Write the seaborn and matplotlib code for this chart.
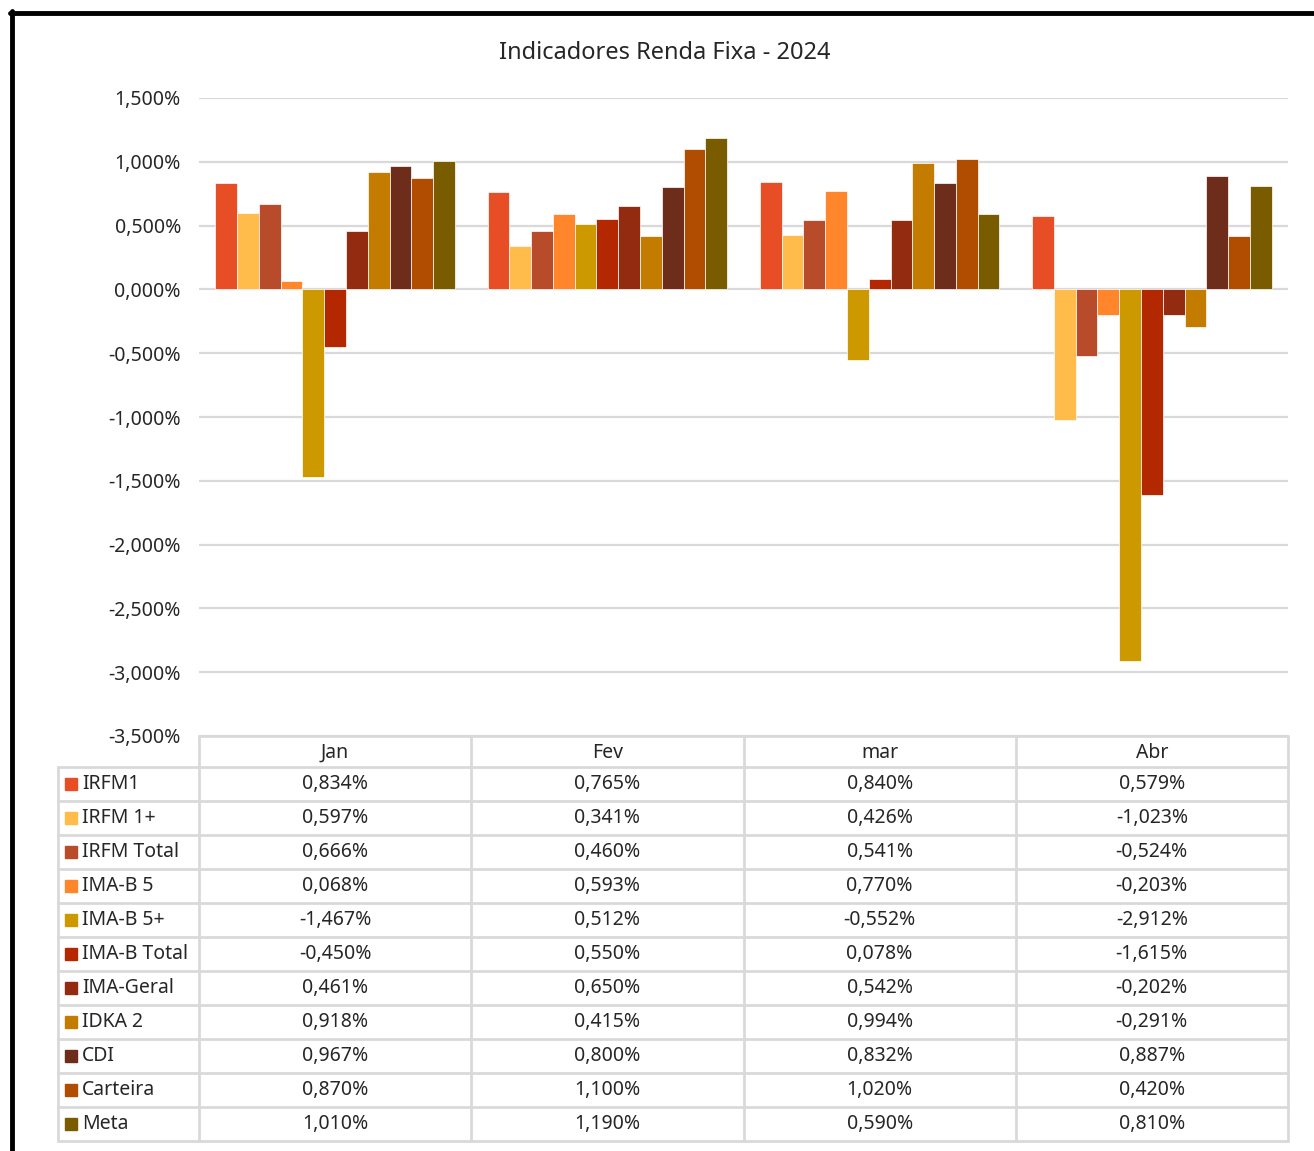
import pandas as pd
import matplotlib.pyplot as plt
import seaborn as sns
from matplotlib.ticker import FuncFormatter, MultipleLocator
from matplotlib.lines import Line2D
from matplotlib.patches import Rectangle

meses = ["Jan", "Fev", "mar", "Abr"]
series = ["IRFM1", "IRFM 1+", "IRFM Total", "IMA-B 5", "IMA-B 5+", "IMA-B Total",
          "IMA-Geral", "IDKA 2", "CDI", "Carteira", "Meta"]
irfm1 = [0.834, 0.765, 0.840, 0.579]
irfm1_mais = [0.597, 0.341, 0.426, -1.023]
irfm_total = [0.666, 0.460, 0.541, -0.524]
imab5 = [0.068, 0.593, 0.770, -0.203]
imab5_mais = [-1.467, 0.512, -0.552, -2.912]
imab_total = [-0.450, 0.550, 0.078, -1.615]
ima_geral = [0.461, 0.650, 0.542, -0.202]
idka2 = [0.918, 0.415, 0.994, -0.291]
cdi = [0.967, 0.800, 0.832, 0.887]
carteira = [0.870, 1.100, 1.020, 0.420]
meta = [1.010, 1.190, 0.590, 0.810]
cores = ["#E84E25", "#FFBC4A", "#B84C2A", "#FF862A", "#CC9A00", "#B32800",
         "#922B10", "#C47C00", "#6E2C1A", "#B04D00", "#7A5C00"]

valores = [irfm1, irfm1_mais, irfm_total, imab5, imab5_mais, imab_total,
           ima_geral, idka2, cdi, carteira, meta]
linhas = []
for s, vals in zip(series, valores):
    for m, v in zip(meses, vals):
        linhas.append({"mes": m, "serie": s, "valor": v})
df = pd.DataFrame(linhas)

sns.set_style("white")
plt.rcParams['font.family'] = ['Noto Sans', 'DejaVu Sans']

W, H = 1314, 1151
fig = plt.figure(figsize=(W / 100, H / 100), dpi=100)

# area do grafico (pixels convertidos para fracao)
x0, x1, y0, y1 = 199, 1288, 98, 736
ax = fig.add_axes([x0 / W, 1 - y1 / H, (x1 - x0) / W, (y1 - y0) / H])
sns.barplot(data=df, x="mes", y="valor", hue="serie", hue_order=series,
            palette=cores, saturation=1, width=0.88, ax=ax, legend=False,
            edgecolor="white", linewidth=0.5)
ax.set_ylim(-3.5, 1.5)
ax.set_xlim(-0.5, 3.5)
ax.yaxis.set_major_locator(MultipleLocator(0.5))
ax.yaxis.set_major_formatter(FuncFormatter(lambda v, p: f"{v:.3f}%".replace(".", ",")))
ax.grid(axis="y", color="#D9D9D9", linewidth=1.6)
ax.set_axisbelow(True)
ax.set_xticks([])
ax.set_xlabel("")
ax.set_ylabel("")
ax.tick_params(axis="y", length=0, pad=13, labelsize=14, labelcolor="#262626")
for sp in ax.spines.values():
    sp.set_visible(False)

fig.text(665 / W, 1 - 53 / H, "Indicadores Renda Fixa - 2024", ha="center", va="center",
         fontsize=17, color="#262626")

# tabela de dados abaixo do grafico
tab = fig.add_axes([0, 0, 1, 1])
tab.set_xlim(0, W)
tab.set_ylim(H, 0)
tab.axis("off")
grid_c = "#D9D9D9"
lw = 2
col_w = (x1 - x0) / 4
top = 736
head_b = 767
row_h = 34
n = len(series)
bottom = head_b + row_h * n

# linhas horizontais
tab.add_line(Line2D([x0, x1], [top, top], color=grid_c, lw=lw))
for i in range(n + 1):
    y = head_b + i * row_h
    tab.add_line(Line2D([58, x1], [y, y], color=grid_c, lw=lw))
# linhas verticais
tab.add_line(Line2D([58, 58], [head_b, bottom], color=grid_c, lw=lw))
for j in range(5):
    x = x0 + j * col_w
    tab.add_line(Line2D([x, x], [top, bottom], color=grid_c, lw=lw))

for j, m in enumerate(meses):
    tab.text(x0 + (j + 0.5) * col_w, (top + head_b) / 2 + 1, m, ha="center", va="center",
             fontsize=14, color="#262626")

for i, (s, vals, c) in enumerate(zip(series, valores, cores)):
    yc = head_b + (i + 0.5) * row_h
    tab.add_patch(Rectangle((65, yc - 6), 12, 12, color=c))
    tab.text(82, yc, s, ha="left", va="center", fontsize=14, color="#262626")
    for j, v in enumerate(vals):
        tab.text(x0 + (j + 0.5) * col_w, yc, f"{v:.3f}%".replace(".", ","),
                 ha="center", va="center", fontsize=14, color="#262626")

# moldura preta (topo e esquerda)
tab.add_line(Line2D([11.5, 11.5], [11, H], color="black", lw=3.5))
tab.add_line(Line2D([10, W], [12.5, 12.5], color="black", lw=3.5))

fig.savefig("out.png", dpi=100, facecolor="white")
